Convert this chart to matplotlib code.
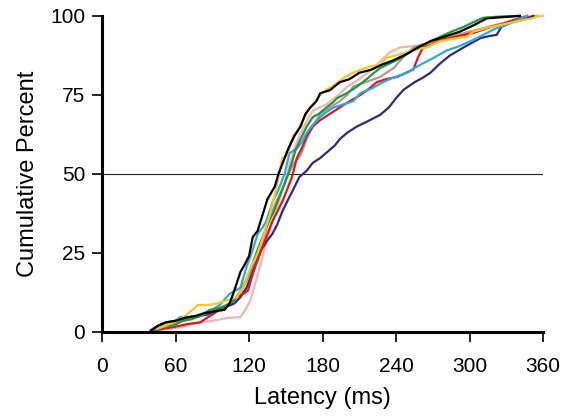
import matplotlib
matplotlib.use("Agg")
import matplotlib.pyplot as plt

plt.rcParams['font.family'] = ['Liberation Sans', 'DejaVu Sans']

# Cumulative latency distributions (ms, percent)
black_x = [40, 46, 52, 60, 68, 76, 84, 92, 100, 104, 107, 110, 113, 116, 120, 123, 127, 131, 135, 138,
           141, 144, 148, 152, 157, 162, 166, 170, 175, 178, 186, 194, 202, 210, 220, 228, 238, 249, 258, 268,
           280, 292, 303, 314, 327, 341]
black_y = [0.5, 2, 3, 3.5, 4.5, 5, 6, 6.5, 7, 9, 12, 15.5, 19, 21, 24, 30, 32, 37, 42, 44,
           46, 50, 54, 58, 62, 65, 69, 71, 73, 75.5, 76.5, 79, 80, 82, 83, 84.5, 86, 88, 90, 92,
           93.5, 95, 97, 99.2, 99.6, 100]

yellow_x = [45, 52, 58, 64, 69, 74, 78, 86, 94, 102, 110, 115, 118, 122, 126, 129, 133, 137, 140, 143,
            147, 151, 156, 160, 164, 168, 172, 178, 183, 189, 194, 200, 205, 211, 219, 227, 232, 240, 249, 257,
            265, 276, 287, 298, 303, 310, 317, 326, 336, 345, 352, 356]
yellow_y = [1, 2, 3, 4, 5.4, 7, 8.5, 8.5, 9, 10, 11, 14, 17, 21, 24, 27, 32, 37, 42, 47,
            55, 56, 62, 64, 67, 70, 72, 75, 76.6, 78, 79.5, 81, 82, 83, 84, 84.5, 86.7, 87.5, 88.6, 89.5,
            90, 92, 92.8, 93.4, 95, 95.8, 96.5, 97.2, 98, 98.8, 99.3, 100]

green_x = [42, 50, 58, 66, 73, 80, 88, 95, 102, 108, 113, 117, 121, 126, 131, 135, 140, 144, 148, 152,
           156, 158, 162, 167, 172, 177, 183, 188, 192, 200, 208, 216, 222, 227, 235, 243, 249, 257, 265, 276,
           285, 295, 303, 311, 325, 341]
green_y = [0.5, 1.5, 2, 3.5, 4, 5, 7, 7.5, 8.5, 10, 13, 16, 19.6, 25, 30, 34, 38, 42, 46, 50,
           55, 57.6, 61, 65, 68, 69, 71, 72.5, 74, 75.6, 77.6, 80, 82, 83.5, 85, 86.5, 88, 90, 91.4, 93.4,
           95, 96.5, 98, 99.4, 99.8, 100]

cyan_x = [40, 45, 52, 58, 64, 72, 80, 88, 96, 104, 113, 118, 123, 127, 131, 134, 140, 143, 146, 149,
          153, 159, 163, 167, 172, 178, 183, 189, 197, 205, 211, 220, 229, 238, 249, 255, 262, 272, 281, 292,
          303, 311, 319, 333, 347]
cyan_y = [0.5, 1, 2, 3, 4.7, 4.7, 5, 6.5, 8.5, 12, 14, 20.6, 26, 31, 33, 35, 42, 44, 47, 50,
          56.6, 58, 60, 63, 65.5, 68, 69.5, 71, 72, 73, 75.6, 77, 79, 80.5, 82, 83.5, 85, 87, 89, 90.5,
          92.4, 94, 95.6, 97.8, 100]

red_x = [42, 50, 58, 70, 80, 88, 96, 103, 110, 115, 119, 122, 125, 129, 132, 135, 139, 143, 148, 152,
         155, 159, 164, 167, 172, 178, 186, 194, 200, 211, 218, 224, 232, 241, 248, 254, 258, 262, 270, 276,
         290, 303, 317, 328, 336, 347]
red_y = [0.3, 1, 1.5, 2.5, 3, 5, 7, 8.5, 11, 12, 13, 17, 20.6, 25, 28, 31, 35, 38, 42, 46,
         49, 55, 59, 62, 65, 67, 69, 71, 72.5, 75, 77, 79, 80, 80.7, 82, 83, 87, 90, 91, 92.4,
         93.5, 94.6, 96.5, 97.5, 98.7, 100]

navy_x = [40, 46, 52, 60, 68, 76, 86, 94, 102, 108, 113, 118, 122, 126, 130, 135, 139, 143, 147, 152,
          156, 161, 167, 172, 178, 184, 190, 194, 200, 208, 216, 227, 234, 240, 246, 255, 262, 268, 276, 284,
          295, 302, 309, 316, 322, 326, 335, 345, 352]
navy_y = [0.5, 2, 3, 3.5, 4.5, 5, 5.5, 7, 8, 9, 11, 14, 18, 22, 26, 29, 31, 34, 38, 42,
          45, 49, 51, 53.5, 55, 57, 59, 61, 63, 65, 66.5, 68.7, 71, 74, 76.6, 79, 80.5, 82, 85, 87.5,
          90, 91.5, 93, 93.6, 94, 96.6, 98, 99, 100]

pink_x = [45, 55, 65, 77, 90, 102, 113, 117, 121, 124, 127, 130, 133, 137, 141, 145, 149, 153, 157, 161,
          166, 172, 183, 193, 200, 210, 220, 228, 235, 243, 255, 265, 275, 285, 295, 305, 315, 325, 335, 345,
          360]
pink_y = [0.5, 1, 1.5, 2.8, 3.5, 4.4, 4.7, 7, 10, 14, 18, 22, 27, 32, 37, 42, 47, 53, 58, 62,
          66, 70, 72, 75, 77.6, 80, 83, 86, 88.5, 90, 90.5, 91, 92, 93, 94, 95, 96, 97.5, 98.5, 99.5,
          100]

mauve_x = [42, 50, 60, 70, 80, 90, 100, 108, 114, 119, 124, 128, 132, 137, 142, 147, 151, 156, 162, 167,
           172, 178, 186, 194, 200, 205, 215, 227, 238, 246, 254, 262, 272, 285, 300, 315, 330, 345, 355]
mauve_y = [0.5, 1.5, 3, 4, 5, 6, 8, 10, 13, 17, 21, 25, 30, 36, 41, 45, 49, 53, 56, 61,
           65, 69, 71, 73, 75, 77.6, 79, 80.7, 83.5, 87, 90, 91, 92, 93.5, 95, 96.5, 98, 99.5, 100]

series = [
    (pink_x, pink_y, "#f4b4b4"),
    (mauve_x, mauve_y, "#b09898"),
    (navy_x, navy_y, "#2b2a88"),
    (red_x, red_y, "#e3141e"),
    (cyan_x, cyan_y, "#29abe2"),
    (green_x, green_y, "#1f9a3e"),
    (yellow_x, yellow_y, "#f7c81a"),
    (black_x, black_y, "#000000"),
]

x_ticks = [0, 60, 120, 180, 240, 300, 360]
y_ticks = [0, 25, 50, 75, 100]

fig = plt.figure(figsize=(5.73, 4.18), dpi=100)
ax = fig.add_axes([0.178, 0.206, 0.770, 0.756])

ax.axhline(50, color="#222222", lw=0.8, zorder=1)

for xs, ys, colour in series:
    ax.plot(xs, ys, color=colour, lw=1.6, clip_on=False, zorder=2)

ax.set_xlim(0, 360)
ax.set_ylim(0, 100)
ax.set_xticks(x_ticks)
ax.set_yticks(y_ticks)

for side in ["top", "right"]:
    ax.spines[side].set_visible(False)
for side in ["left", "bottom"]:
    ax.spines[side].set_linewidth(2.2)

ax.tick_params(axis="x", direction="out", length=7, width=1.2, pad=11, labelsize=15)
ax.tick_params(axis="y", direction="out", length=7, width=1.2, pad=5, labelsize=15)

ax.set_xlabel("Latency (ms)", fontsize=17, labelpad=8)
ax.set_ylabel("Cumulative Percent", fontsize=17, labelpad=8)

fig.savefig("out.png", dpi=100)
